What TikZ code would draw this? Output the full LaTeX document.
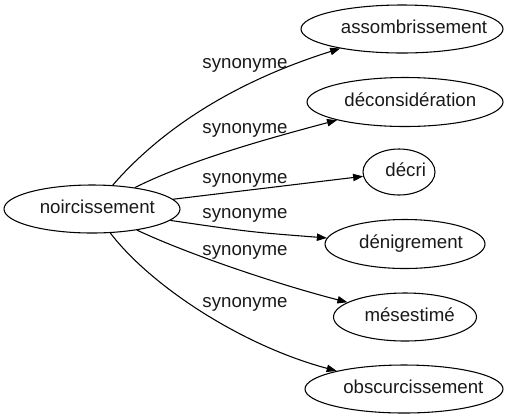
\documentclass[tikz,border=0pt]{standalone}
\usepackage{fontspec}
\setmainfont{Liberation Sans}
\usetikzlibrary{shapes.geometric,arrows.meta}
\begin{document}
\begin{tikzpicture}[x=0.75pt,y=-0.75pt,
  every node/.style={font=\fontsize{14}{17}\selectfont, text=black!90},
  term/.style n args={2}{ellipse, draw, line width=0.8pt, inner sep=0pt,
     minimum width=#1*0.75pt, minimum height=#2*0.75pt},
  rel/.style={anchor=base, inner sep=0pt},
  link/.style={line width=0.8pt, -{Triangle[length=7.5pt,width=5.5pt]}}]
\useasboundingbox (0,0) rectangle (513,419);
\newcommand{\lbl}[2]{\hspace*{#1pt}\makebox[0pt][c]{\rule[-3pt]{0pt}{12pt}#2}\hspace*{-#1pt}}
\node[term={176}{48}] (noir) at (92,209) {\lbl{4}{noircissement}};
\node[term={202}{48}] (assomb) at (402,29) {\lbl{9}{assombrissement}};
\node[term={196}{49}] (decons) at (405,102) {\lbl{4}{déconsidération}};
\node[term={72}{46}] (decri) at (399,172) {\lbl{5}{décri}};
\node[term={160}{49}] (denig) at (405,244) {\lbl{4.5}{dénigrement}};
\node[term={143}{48}] (mesest) at (405,317) {\lbl{3.5}{mésestimé}};
\node[term={198}{48}] (obscur) at (404,389) {\lbl{7}{obscurcissement}};

\draw[link] (noir) .. controls (165,125) and (240,80) .. (assomb);
\draw[link] (noir) .. controls (190,160) and (270,138) .. (decons);
\draw[link] (noir) -- (decri);
\draw[link] (noir) .. controls (250,232) .. (denig);
\draw[link] (noir) .. controls (190,255) and (280,285) .. (mesest);
\draw[link] (noir) .. controls (150,285) and (240,345) .. (obscur);

\node[rel] (l1) at (245,68) {synonyme};
\node[rel] (l2) at (245,133) {synonyme};
\node[rel] (l3) at (245,183) {synonyme};
\node[rel] (l4) at (245,218) {synonyme};
\node[rel] (l5) at (245,255) {synonyme};
\node[rel] (l6) at (245,307) {synonyme};
\end{tikzpicture}
\end{document}
